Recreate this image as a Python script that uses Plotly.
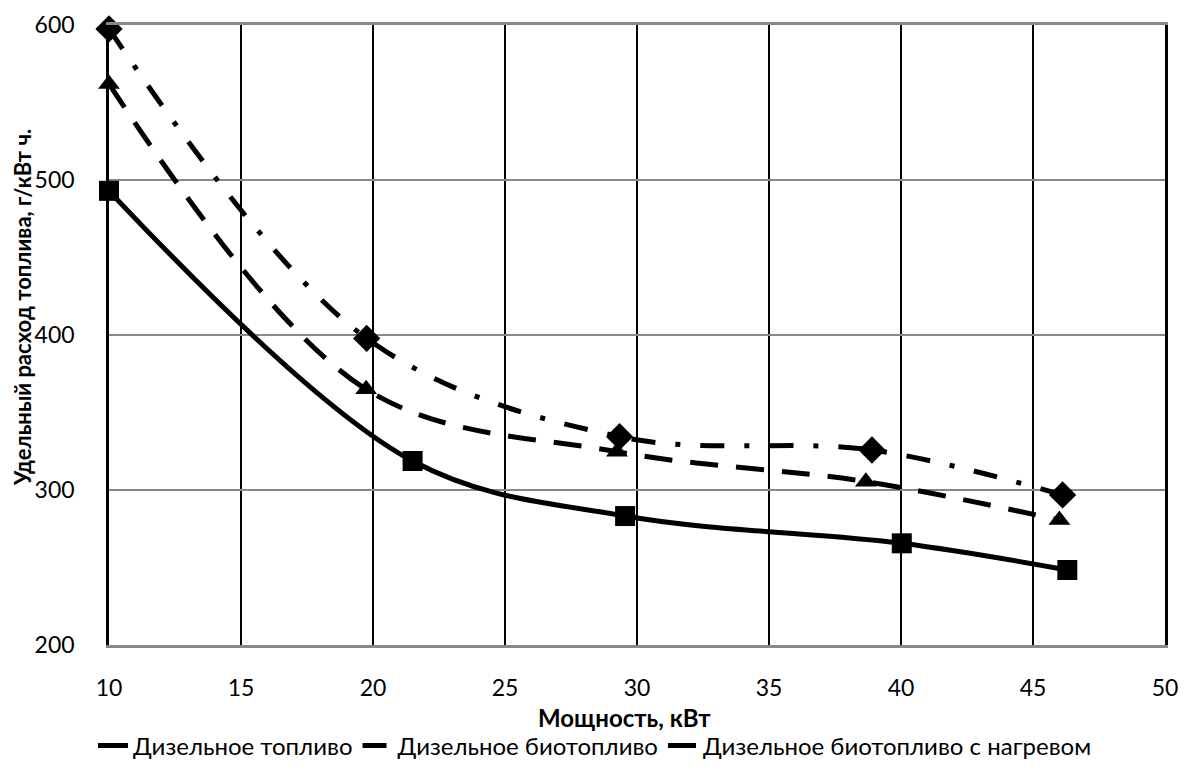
import plotly.graph_objects as go

# Data
x_diesel = [10, 21.5, 29.55, 40.03, 46.3]
y_diesel = [493, 318.7, 283.2, 265.6, 248.4]

x_bio = [10, 19.76, 29.34, 38.9, 46.12]
y_bio = [597.5, 397.8, 334.4, 325.8, 296.8]

x_heat = [10, 19.74, 29.24, 38.67, 46.0]
y_heat = [562, 365, 324.7, 305.4, 280.6]

names = ["Дизельное топливо", "Дизельное биотопливо", "Дизельное биотопливо с нагревом"]
x_ticks = [10, 15, 20, 25, 30, 35, 40, 45, 50]
y_ticks = [200, 300, 400, 500, 600]
x_title = "Мощность, кВт"
y_title = "Удельный расход топлива, г/кВт ч."

FONT = "Lato"
FS = 23

fig = go.Figure()

series = [
    (x_diesel, y_diesel, names[0], "solid", "square", 20),
    (x_bio, y_bio, names[1], "24px,20px,5px,20px", "diamond", 21),
    (x_heat, y_heat, names[2], "28px,18px", "triangle-up", 19),
]

for xs, ys, nm, dash, sym, ms in series:
    fig.add_trace(go.Scatter(
        x=xs, y=ys, mode="lines", name=nm,
        line=dict(color="black", width=5, dash=dash, shape="spline", smoothing=1.0),
        showlegend=True, cliponaxis=False,
    ))
for xs, ys, nm, dash, sym, ms in series:
    fig.add_trace(go.Scatter(
        x=xs, y=ys, mode="markers", name=nm,
        marker=dict(color="black", symbol=sym, size=ms),
        showlegend=False, cliponaxis=False,
    ))

H = 754
fig.update_layout(
    width=1182, height=H,
    margin=dict(l=101, r=25, t=17, b=117),
    plot_bgcolor="white", paper_bgcolor="white",
    font=dict(family=FONT, size=FS, color="black"),
    xaxis=dict(
        range=[10, 50], tickvals=x_ticks, ticktext=[str(v) for v in x_ticks],
        showgrid=True, gridcolor="black", gridwidth=1.5,
        showline=True, linecolor="#888888", linewidth=2.5, mirror=True,
        zeroline=False, ticks="", ticklen=0, automargin=False,
        ticklabelstandoff=21,
        tickfont=dict(size=FS, family=FONT),
    ),
    yaxis=dict(
        range=[200, 600], tickvals=y_ticks,
        showgrid=True, gridcolor="#888888", gridwidth=1.5,
        showline=True, linecolor="black", linewidth=2.5, mirror=True,
        zeroline=False, ticks="", ticklen=0, automargin=False,
        ticklabelstandoff=27,
        tickfont=dict(size=FS, family=FONT),
    ),
    legend=dict(
        orientation="h", xref="container", yref="container",
        x=0.4966, xanchor="center", y=16 / H, yanchor="middle",
        font=dict(size=24, family=FONT), itemwidth=30, tracegroupgap=0,
        bgcolor="rgba(0,0,0,0)",
    ),
    showlegend=True,
    annotations=[
        dict(text="<b>" + x_title + "</b>", xref="paper", yref="paper",
             x=0.488, y=-0.1177, xanchor="center", yanchor="middle",
             showarrow=False, font=dict(size=24, family=FONT)),
        dict(text="<b>" + y_title + "</b>", xref="paper", yref="paper",
             x=-0.0823, y=0.5435, xanchor="center", yanchor="middle", textangle=-90,
             showarrow=False, font=dict(size=22, family=FONT)),
    ],
)

fig.write_html("out.html")
